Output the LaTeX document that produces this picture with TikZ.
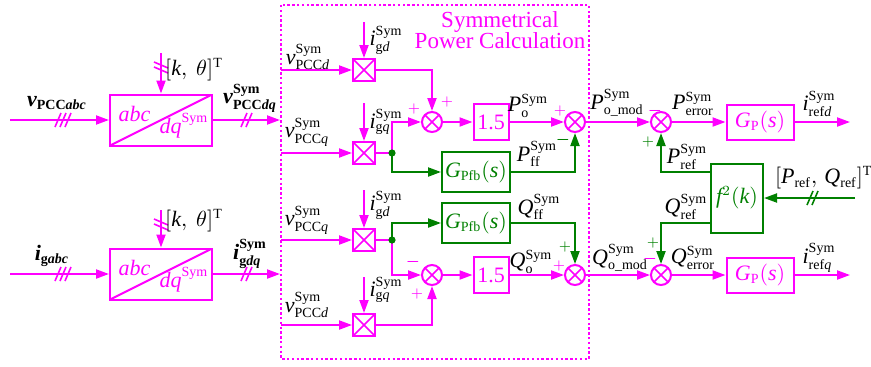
\documentclass[tikz,border=0pt]{standalone}
\usepackage{amsmath}
\usepackage{fontspec}
\setmainfont{Liberation Serif}
\DeclareMathSizes{11}{11}{7}{5}
\usetikzlibrary{arrows.meta}
\definecolor{mag}{RGB}{255,0,255}
\definecolor{grn}{RGB}{0,128,0}
\newcommand{\Sym}{\mathrm{Sym}}
\tikzset{
  sig/.style={mag, -{Triangle[length=6.5pt,width=4.5pt]}},
  fbk/.style={grn, -{Triangle[length=6.5pt,width=4.5pt]}},
  tbox/.style={draw=mag, minimum width=51pt, minimum height=25.5pt, inner sep=0pt,
    path picture={\draw[mag] (path picture bounding box.south west) -- (path picture bounding box.north east);}},
  mbox/.style={draw=mag, minimum size=11pt, inner sep=0pt,
    path picture={\draw[mag,line width=0.8pt] (path picture bounding box.south west) -- (path picture bounding box.north east)
      (path picture bounding box.north west) -- (path picture bounding box.south east);}},
  sumc/.style={circle, draw=mag, minimum size=10pt, inner sep=0pt,
    path picture={\draw[mag,line width=0.8pt] (path picture bounding box.south west) -- (path picture bounding box.north east)
      (path picture bounding box.north west) -- (path picture bounding box.south east);}},
  gbox/.style={draw=mag, text=mag, inner sep=0pt},
  fbox/.style={draw=grn, text=grn, inner sep=0pt},
  lbl/.style={inner sep=1pt},
  sgn/.style={inner sep=0pt, font=\fontsize{7}{7}\selectfont},
  bus2/.pic={\draw[line width=0.8pt,pic actions] (-2.5pt,-3.5pt) -- (0.5pt,3.5pt) (0pt,-3.5pt) -- (3pt,3.5pt);},
  bus3/.pic={\draw[line width=0.8pt,pic actions] (-4pt,-3.5pt) -- (-1pt,3.5pt) (-1.5pt,-3.5pt) -- (1.5pt,3.5pt) (1pt,-3.5pt) -- (4pt,3.5pt);}
}
\begin{document}
\begin{tikzpicture}[x=0.5pt,y=-0.5pt,line width=1pt,font=\fontsize{11}{13}\selectfont]
\useasboundingbox (0,0) rectangle (871,366);

% abc -> dq transforms
\node[tbox] (T1) at (161,120) {};
\node[tbox] (T2) at (161,274) {};
\foreach \t in {T1,T2}{
  \node[mag,anchor=north west] (\t-abc) at ([shift={(1pt,-2.5pt)}]\t.north west) {$\mathit{abc}$};
  \node[mag,anchor=south east] (\t-dq) at ([shift={(1.5pt,0.5pt)}]\t.south east) {$\mathit{dq}^{\Sym}$};
}
\coordinate (vin) at (10,120);
\coordinate (iin) at (10,274);
\coordinate (k1) at (161,53);
\coordinate (k2) at (161,210);
\coordinate (vout) at (280,120);
\coordinate (iout) at (280,274);
\draw[sig] (vin) -- (T1);
\draw[sig] (iin) -- (T2);
\draw[sig] (k1) -- (T1);
\draw[sig] (k2) -- (T2);
\draw[sig] (T1) -- (vout);
\draw[sig] (T2) -- (iout);
\pic[draw=mag] at (63,120) {bus3};
\pic[draw=mag] at (63,274) {bus3};
\pic[draw=mag,rotate=90] at (161,68) {bus2};
\pic[draw=mag,rotate=90] at (161,225) {bus2};
\pic[draw=mag] at (246,120) {bus2};
\pic[draw=mag] at (246,274) {bus2};
\node[lbl] (lvabc) at (57,103) {$\text{\bfseries\itshape v}_{\text{\bfseries PCC\itshape abc}}$};
\node[lbl] (lkt1) at (194,70) {$[\mathit{k},\ \theta]^{\mathrm{T}}$};
\node[lbl] (lvdq) at (250,98) {$\text{\bfseries\itshape v}^{\text{\bfseries Sym}}_{\text{\bfseries PCC\itshape dq}}$};
\node[lbl] (ligabc) at (52,256) {$\text{\bfseries\itshape i}_{\text{\bfseries g\itshape abc}}$};
\node[lbl] (lkt2) at (194,221) {$[\mathit{k},\ \theta]^{\mathrm{T}}$};
\node[lbl] (ligdq) at (250,254) {$\text{\bfseries\itshape i}^{\text{\bfseries Sym}}_{\text{\bfseries g\itshape dq}}$};

% symmetrical power calculation
\draw[mag, dash pattern=on 1.2pt off 1.2pt] (281,5) rectangle (589,359);
\node[mag, align=center, font=\fontsize{11.5}{10.5}\selectfont] (title) at (500,30) {Symmetrical\\Power Calculation};

\node[mbox] (M1) at (364,70) {};
\node[mbox] (M2) at (364,153) {};
\node[mbox] (M3) at (364,240) {};
\node[mbox] (M4) at (364,325) {};
\foreach \m/\y/\yt in {M1/70/22, M2/153/103, M3/240/190, M4/325/277}{
  \coordinate (\m in) at (281,\y);
  \coordinate (\m top) at (364,\yt);
  \draw[sig] (\m in) -- (\m);
  \draw[sig] (\m top) -- (\m);
}
\node[lbl] (lv1) at (308,57) {$\mathit{v}^{\Sym}_{\mathrm{PCC}\mathit{d}}$};
\node[lbl] (lv2) at (307,132) {$\mathit{v}^{\Sym}_{\mathrm{PCC}\mathit{q}}$};
\node[lbl] (lv3) at (307,220) {$\mathit{v}^{\Sym}_{\mathrm{PCC}\mathit{q}}$};
\node[lbl] (lv4) at (307,305) {$\mathit{v}^{\Sym}_{\mathrm{PCC}\mathit{d}}$};
\node[lbl] (li1) at (386,40) {$\mathit{i}^{\Sym}_{\mathrm{g}\mathit{d}}$};
\node[lbl] (li2) at (386,122) {$\mathit{i}^{\Sym}_{\mathrm{g}\mathit{q}}$};
\node[lbl] (li3) at (386,205) {$\mathit{i}^{\Sym}_{\mathrm{g}\mathit{d}}$};
\node[lbl] (li4) at (386,290) {$\mathit{i}^{\Sym}_{\mathrm{g}\mathit{q}}$};

\node[sumc] (S1) at (432,122) {};
\node[sumc] (S2) at (575,122) {};
\node[sumc] (S3) at (432,275) {};
\node[sumc] (S4) at (575,275) {};
\node[sumc] (S5) at (661,122) {};
\node[sumc] (S6) at (661,275) {};
\node[gbox, minimum width=17.5pt, minimum height=18pt] (K1) at (491,122) {1.5};
\node[gbox, minimum width=17.5pt, minimum height=18pt] (K2) at (491,275) {1.5};
\node[fbox, minimum width=34pt, minimum height=20pt] (F1) at (476,172) {$\mathit{G}_{\mathrm{Pfb}}(\mathit{s})$};
\node[fbox, minimum width=34pt, minimum height=20pt] (F2) at (476,223) {$\mathit{G}_{\mathrm{Pfb}}(\mathit{s})$};
\node[gbox, minimum width=33.5pt, minimum height=17.5pt] (G1) at (760,122) {$\mathit{G}_{\mathrm{P}}(\mathit{s})$};
\node[gbox, minimum width=33.5pt, minimum height=17.5pt] (G2) at (760,275) {$\mathit{G}_{\mathrm{P}}(\mathit{s})$};
\node[fbox, minimum width=26pt, minimum height=34.5pt] (Fk) at (737,198) {$\mathit{f}^{2}(\mathit{k})$};

\coordinate (D1) at (392,153);
\coordinate (D2) at (392,240);
\coordinate (ird) at (850,122);
\coordinate (irq) at (850,275);
\coordinate (pqin) at (855,198);

% P path
\draw[sig] (M1.east) -| (S1.north);
\draw[sig] (M2.east) -- (D1) |- (S1.west);
\draw[fbk] (D1) |- (F1.west);
\draw[sig] (S1) -- (K1);
\draw[sig] (K1) -- (S2);
\draw[fbk] (F1.east) -| (S2.south);
\draw[sig] (S2) -- (S5);
\draw[sig] (S5) -- (G1);
\draw[sig] (G1) -- (ird);
\draw[fbk] (Fk.west |- F1) -| (S5.south);
% Q path
\draw[sig] (M3.east) -- (D2) |- (S3.west);
\draw[fbk] (D2) |- (F2.west);
\draw[sig] (M4.east) -| (S3.south);
\draw[sig] (S3) -- (K2);
\draw[sig] (K2) -- (S4);
\draw[fbk] (F2.east) -| (S4.north);
\draw[sig] (S4) -- (S6);
\draw[sig] (S6) -- (G2);
\draw[sig] (G2) -- (irq);
\draw[fbk] (Fk.west |- F2) -| (S6.north);
\draw[fbk] (pqin) -- (Fk);
\pic[draw=grn] at (812,198) {bus2};
\fill[grn] (D1) circle (1.8pt);
\fill[grn] (D2) circle (1.8pt);

% signs
\node[sgn,mag] (s1a) at (414,109) {$+$};
\node[sgn,mag] (s1b) at (447,102) {$+$};
\node[sgn,mag] (s2a) at (560,111) {$+$};
\node[sgn,grn] (s2b) at (563,140) {$\boldsymbol{-}$};
\node[sgn,mag] (s3a) at (413,262) {$\boldsymbol{-}$};
\node[sgn,mag] (s3b) at (417,294) {$+$};
\node[sgn,grn] (s4a) at (565,247) {$+$};
\node[sgn,mag] (s4b) at (559,266) {$+$};
\node[sgn,mag] (s5a) at (655,111) {$\boldsymbol{-}$};
\node[sgn,grn] (s5b) at (648,142) {$+$};
\node[sgn,grn] (s6a) at (653,243) {$+$};
\node[sgn,mag] (s6b) at (650,259) {$\boldsymbol{-}$};

% signal labels
\node[lbl] (lPo) at (528,106) {$\mathit{P}^{\Sym}_{\mathrm{o}}$};
\node[lbl] (lPff) at (537,154) {$\mathit{P}^{\Sym}_{\mathrm{ff}}$};
\node[lbl] (lQff) at (539,207) {$\mathit{Q}^{\Sym}_{\mathrm{ff}}$};
\node[lbl] (lQo) at (531,262) {$\mathit{Q}^{\Sym}_{\mathrm{o}}$};
\node[lbl] (lPom) at (617,103) {$\mathit{P}^{\Sym}_{\mathrm{o\_mod}}$};
\node[lbl] (lPer) at (693,104) {$\mathit{P}^{\Sym}_{\mathrm{error}}$};
\node[lbl] (lird) at (819,104) {$\mathit{i}^{\Sym}_{\mathrm{ref}\mathit{d}}$};
\node[lbl] (lPref) at (687,157) {$\mathit{P}^{\Sym}_{\mathrm{ref}}$};
\node[lbl] (lQref) at (686,207) {$\mathit{Q}^{\Sym}_{\mathrm{ref}}$};
\node[lbl,anchor=west] (lPQ) at (772,178) {$[\mathit{P}_{\mathrm{ref}},\,\mathit{Q}_{\mathrm{ref}}]^{\mathrm{T}}$};
\node[lbl] (lQom) at (620,258) {$\mathit{Q}^{\Sym}_{\mathrm{o\_mod}}$};
\node[lbl] (lQer) at (693,258) {$\mathit{Q}^{\Sym}_{\mathrm{error}}$};
\node[lbl] (lirq) at (819,258) {$\mathit{i}^{\Sym}_{\mathrm{ref}\mathit{q}}$};
\end{tikzpicture}
\end{document}
